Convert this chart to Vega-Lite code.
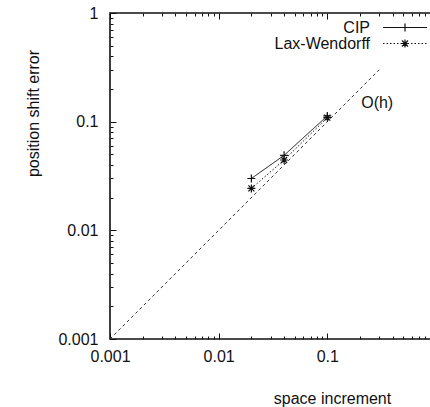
{
  "$schema": "https://vega.github.io/schema/vega-lite/v6.json",
  "autosize": {"type": "none"},
  "padding": {"left": 110, "top": 13, "right": 0, "bottom": 68},
  "width": 326,
  "height": 326,
  "background": "white",
  "config": {
    "view": {"stroke": "#111", "strokeWidth": 1.6},
    "font": "Liberation Sans",
    "axis": {"grid": false, "domain": false, "labelFont": "Liberation Sans", "titleFont": "Liberation Sans", "labelFontSize": 16, "titleFontSize": 16, "titleFontWeight": "normal", "labelColor": "#111", "titleColor": "#111", "tickColor": "#111", "tickWidth": 1, "labelFlush": false, "labelOverlap": false, "labelBound": false},
    "legend": {"labelFont": "Liberation Sans", "labelFontSize": 16, "labelColor": "#111", "padding": 0}
  },
  "datasets": {
    "ref": [{"h": 0.001, "err": 0.001}, {"h": 0.3, "err": 0.3}],
    "main": [
      {"h": 0.02, "err": 0.030, "series": "CIP"},
      {"h": 0.04, "err": 0.049, "series": "CIP"},
      {"h": 0.1, "err": 0.113, "series": "CIP"},
      {"h": 0.02, "err": 0.0243, "series": "Lax-Wendorff"},
      {"h": 0.04, "err": 0.0444, "series": "Lax-Wendorff"},
      {"h": 0.1, "err": 0.109, "series": "Lax-Wendorff"}
    ]
  },
  "resolve": {"axis": {"x": "independent", "y": "independent"}},
  "layer": [
    {
      "data": {"name": "ref"},
      "mark": {"type": "line", "stroke": "#333", "strokeWidth": 1, "strokeDash": [3, 3]},
      "encoding": {
        "x": {"field": "h", "type": "quantitative", "scale": {"type": "log", "domain": [0.001, 1], "nice": false},
          "axis": {"orient": "bottom", "title": "space increment", "titleX": 222, "titleY": 59, "titleAlign": "center", "titleBaseline": "middle", "titleAnchor": null,
            "values": [0.001,0.002,0.003,0.004,0.005,0.006,0.007,0.008,0.009,0.01,0.02,0.03,0.04,0.05,0.06,0.07,0.08,0.09,0.1,0.2,0.3,0.4,0.5,0.6,0.7,0.8,0.9,1],
            "format": "~g",
            "labelExpr": "indexof([0.001,0.01,0.1], datum.value) >= 0 ? datum.label : ''",
            "tickSize": {"condition": {"test": "indexof([0.001,0.01,0.1,1], datum.value) >= 0", "value": -6}, "value": -3},
            "labelPadding": 15}},
        "y": {"field": "err", "type": "quantitative", "scale": {"type": "log", "domain": [0.001, 1], "nice": false},
          "axis": {"orient": "left", "title": "position shift error", "titleX": -77, "titleY": 100, "titleAlign": "center", "titleBaseline": "middle", "titleAngle": -90, "titleAnchor": null,
            "values": [0.001,0.002,0.003,0.004,0.005,0.006,0.007,0.008,0.009,0.01,0.02,0.03,0.04,0.05,0.06,0.07,0.08,0.09,0.1,0.2,0.3,0.4,0.5,0.6,0.7,0.8,0.9,1],
            "format": "~g",
            "labelExpr": "indexof([0.001,0.01,0.1,1], datum.value) >= 0 ? datum.label : ''",
            "tickSize": {"condition": {"test": "indexof([0.001,0.01,0.1,1], datum.value) >= 0", "value": -6}, "value": -3},
            "labelPadding": 18}}
      }
    },
    {
      "data": {"name": "ref"},
      "transform": [{"filter": "datum.h > 0.1"}],
      "mark": {"type": "text", "text": "O(h)", "fontSize": 16, "font": "Liberation Sans", "color": "#111", "dx": -2, "dy": 33, "align": "center", "baseline": "middle"},
      "encoding": {
        "x": {"field": "h", "type": "quantitative", "scale": {"type": "log", "domain": [0.001, 1], "nice": false},
          "axis": {"orient": "top", "title": null, "labels": false,
            "values": [0.001,0.002,0.003,0.004,0.005,0.006,0.007,0.008,0.009,0.01,0.02,0.03,0.04,0.05,0.06,0.07,0.08,0.09,0.1,0.2,0.3,0.4,0.5,0.6,0.7,0.8,0.9,1],
            "tickSize": {"condition": {"test": "indexof([0.001,0.01,0.1,1], datum.value) >= 0", "value": -6}, "value": -3}}},
        "y": {"field": "err", "type": "quantitative", "scale": {"type": "log", "domain": [0.001, 1], "nice": false}, "axis": null}
      }
    },
    {
      "data": {"name": "main"},
      "mark": {"type": "line", "stroke": "#111", "strokeWidth": 1},
      "encoding": {
        "x": {"field": "h", "type": "quantitative", "scale": {"type": "log", "domain": [0.001, 1], "nice": false}, "axis": null},
        "y": {"field": "err", "type": "quantitative", "scale": {"type": "log", "domain": [0.001, 1], "nice": false}, "axis": null},
        "strokeDash": {"field": "series", "type": "nominal", "scale": {"range": [[1, 0], [1.5, 2]]},
          "legend": {"orient": "none", "legendX": 287, "legendY": 6.5, "title": null, "symbolType": "M-5.5,0L5.5,0", "symbolSize": 64, "symbolStrokeWidth": 1, "symbolStrokeColor": "#111", "labelAlign": "right", "labelOffset": -43, "rowPadding": 0}}
      }
    },
    {
      "data": {"name": "main"},
      "transform": [{"filter": "datum.err > 0"}],
      "mark": {"type": "point", "filled": false, "stroke": "#111", "strokeWidth": 1.2, "size": 64, "opacity": 1},
      "encoding": {
        "x": {"field": "h", "type": "quantitative", "scale": {"type": "log", "domain": [0.001, 1], "nice": false}, "axis": null},
        "y": {"field": "err", "type": "quantitative", "scale": {"type": "log", "domain": [0.001, 1], "nice": false}, "axis": null},
        "shape": {"field": "series", "type": "nominal", "scale": {"range": ["M-1,0L1,0M0,-1L0,1", "M-1,0L1,0M0,-1L0,1M-0.75,-0.75L0.75,0.75M-0.75,0.75L0.75,-0.75"]},
          "legend": {"orient": "none", "legendX": 287, "legendY": 6.5, "title": null, "symbolSize": 64, "symbolStrokeWidth": 1.2, "symbolStrokeColor": "#111", "symbolFillColor": "transparent", "labelAlign": "right", "labelOffset": -43, "rowPadding": 0, "labelOpacity": 0}}
      }
    }
  ]
}
